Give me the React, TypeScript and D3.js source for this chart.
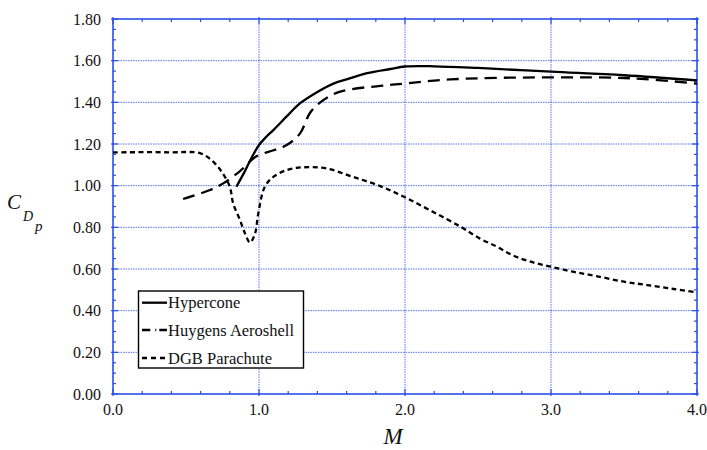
import React from "react";
import * as d3 from "d3";

const hyperconeM = [0.845, 0.9, 0.95, 1.0, 1.05, 1.1, 1.2, 1.28, 1.4, 1.51, 1.6, 1.74, 1.9, 2.0, 2.2, 2.5, 3.0, 3.5, 4.0];
const hyperconeC = [0.995, 1.065, 1.135, 1.195, 1.235, 1.268, 1.34, 1.395, 1.45, 1.49, 1.51, 1.54, 1.56, 1.572, 1.573, 1.565, 1.547, 1.53, 1.505];

const huygensM = [0.48, 0.66, 0.755, 0.87, 0.98, 1.1, 1.19, 1.28, 1.35, 1.42, 1.55, 1.83, 2.0, 2.31, 3.0, 3.56, 4.0];
const huygensC = [0.936, 0.978, 1.011, 1.07, 1.14, 1.17, 1.195, 1.25, 1.35, 1.4, 1.45, 1.479, 1.49, 1.51, 1.52, 1.515, 1.49];

const dgbM = [0, 0.39, 0.6, 0.686, 0.744, 0.8, 0.823, 0.87, 0.904, 0.938, 0.973, 0.995, 1.04, 1.1, 1.19, 1.3, 1.46, 1.64, 1.83, 2.0, 2.19, 2.38, 2.51, 2.63, 2.74, 2.86, 3.0, 3.15, 3.31, 3.5, 3.66, 3.84, 4.0];
const dgbC = [1.16, 1.16, 1.155, 1.115, 1.067, 0.995, 0.915, 0.835, 0.771, 0.727, 0.771, 0.867, 0.995, 1.043, 1.075, 1.088, 1.083, 1.043, 0.998, 0.944, 0.875, 0.803, 0.747, 0.707, 0.665, 0.635, 0.611, 0.587, 0.566, 0.539, 0.523, 0.504, 0.488];

const xTicks = [0, 1, 2, 3, 4];
const yTicks = [0, 0.2, 0.4, 0.6, 0.8, 1.0, 1.2, 1.4, 1.6, 1.8];
const seriesNames = ["Hypercone", "Huygens Aeroshell", "DGB Parachute"];

const W = 707, H = 450;
const L = 113, R = 697, T = 19, B = 394;
const AXIS = "#2b4ee6";
const GRID = "#3a5af2";
const FONT = "Liberation Serif, Times New Roman, Times, DejaVu Serif, serif";
const tstyle = { fontFamily: FONT };

export default function App() {
  const x = d3.scaleLinear().domain([0, 4]).range([L, R]);
  const y = d3.scaleLinear().domain([0, 1.8]).range([B, T]);
  const line = d3.line<[number, number]>().x(d => x(d[0])).y(d => y(d[1])).curve(d3.curveCatmullRom.alpha(0.5));
  const zip = (a: number[], b: number[]) => a.map((v, i) => [v, b[i]] as [number, number]);

  const xMinor = d3.range(0, 4.0001, 0.2);
  const yMinor = d3.range(0, 1.8001, 0.05);

  return (
    <svg width={W} height={H} style={{ position: "absolute", left: 0, top: 0, background: "#fff" }}>
      <rect x={0} y={0} width={W} height={H} fill="#fff" />
      {xTicks.slice(1, -1).map(t => (
        <line key={"gx" + t} x1={x(t)} x2={x(t)} y1={T} y2={B} stroke={GRID} strokeOpacity={0.85} strokeWidth={1} strokeDasharray="1.5,1" />
      ))}
      {yTicks.slice(1, -1).map(t => (
        <line key={"gy" + t} x1={L} x2={R} y1={y(t)} y2={y(t)} stroke={GRID} strokeOpacity={0.85} strokeWidth={1} strokeDasharray="1.5,1" />
      ))}
      {xMinor.map((t, i) => {
        const major = i % 5 === 0;
        return (
          <g key={"xm" + i}>
            <line x1={x(t)} x2={x(t)} y1={B + (major ? 2 : 0)} y2={B - (major ? 5 : 3)} stroke={AXIS} strokeWidth={1.2} />
            <line x1={x(t)} x2={x(t)} y1={T - (major ? 2 : 0)} y2={T + (major ? 5 : 3)} stroke={AXIS} strokeWidth={1.2} />
          </g>
        );
      })}
      {yMinor.map((t, i) => {
        const major = i % 4 === 0;
        return (
          <g key={"ym" + i}>
            <line x1={L - (major ? 2 : 0)} x2={L + (major ? 5 : 3)} y1={y(t)} y2={y(t)} stroke={AXIS} strokeWidth={1.2} />
            <line x1={R + (major ? 2 : 0)} x2={R - (major ? 5 : 3)} y1={y(t)} y2={y(t)} stroke={AXIS} strokeWidth={1.2} />
          </g>
        );
      })}
      <rect x={L} y={T} width={R - L} height={B - T} fill="none" stroke={AXIS} strokeWidth={1.6} />
      {yTicks.map(t => (
        <text key={"yl" + t} x={101} y={y(t) + 5.5} textAnchor="end" fontSize={16} fill="#111" style={tstyle}>{t.toFixed(2)}</text>
      ))}
      {xTicks.map(t => (
        <text key={"xl" + t} x={x(t)} y={415} textAnchor="middle" fontSize={16} fill="#111" style={tstyle}>{t.toFixed(1)}</text>
      ))}
      <text x={393} y={444} textAnchor="middle" fontSize={23} fontStyle="italic" fill="#111" style={tstyle}>M</text>
      <text x={7} y={209} fontSize={21} fontStyle="italic" fill="#111" style={tstyle}>C</text>
      <text x={23} y={221} fontSize={14} fontStyle="italic" fill="#111" style={tstyle}>D</text>
      <text x={35} y={231} fontSize={15} fontStyle="italic" fill="#111" style={tstyle}>p</text>
      <path d={line(zip(dgbM, dgbC)) || ""} fill="none" stroke="#000" strokeWidth={2.3} strokeDasharray="5,3.5" />
      <path d={line(zip(huygensM, huygensC)) || ""} fill="none" stroke="#000" strokeWidth={2.3} strokeDasharray="12,7" />
      <path d={line(zip(hyperconeM, hyperconeC)) || ""} fill="none" stroke="#000" strokeWidth={2.3} />
      <rect x={138.5} y={291} width={165} height={77} fill="#fff" stroke="#000" strokeWidth={1.4} />
      {seriesNames.map((name, i) => {
        const ly = [302.7, 330, 358][i];
        const dash = ["", "8.3,5,1,3,8", "5,4"][i];
        return (
          <g key={name}>
            <line x1={142} x2={167} y1={ly} y2={ly} stroke="#000" strokeWidth={2.3} strokeDasharray={dash || undefined} />
            <text x={168} y={ly + 5.5} fontSize={16.5} fill="#111" style={tstyle}>{name}</text>
          </g>
        );
      })}
    </svg>
  );
}
